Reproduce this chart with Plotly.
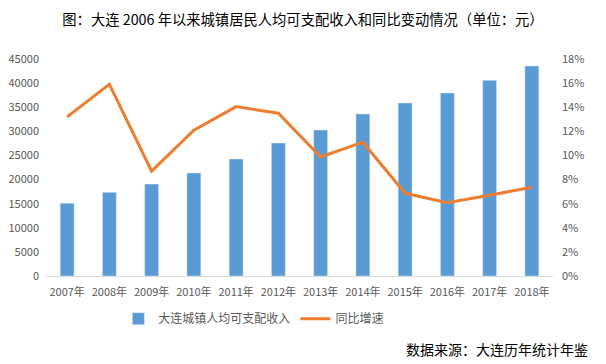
import plotly.graph_objects as go

years = ["2007年", "2008年", "2009年", "2010年", "2011年", "2012年",
         "2013年", "2014年", "2015年", "2016年", "2017年", "2018年"]
income = [15100, 17350, 19070, 21360, 24260, 27580,
          30280, 33600, 35880, 37950, 40600, 43550]
growth = [13.2, 15.9, 8.7, 12.1, 14.05, 13.5, 9.87, 11.1, 6.86, 6.08, 6.7, 7.36]

left_ticks = list(range(0, 45001, 5000))
right_ticks = list(range(0, 19, 2))

font = "Noto Sans CJK SC, sans-serif"
gray = "#595959"

fig = go.Figure()
fig.add_trace(go.Bar(x=years, y=income, name="大连城镇人均可支配收入",
                     marker_color="#5B9BD5", width=0.33))
fig.add_trace(go.Scatter(x=years, y=growth, name="同比增速", yaxis="y2",
                         mode="lines", line=dict(color="#ED7D31", width=3)))

fig.update_layout(
    width=606, height=364,
    margin=dict(l=46, r=53, t=59, b=88, autoexpand=False),
    paper_bgcolor="white", plot_bgcolor="white",
    font=dict(family=font, size=11, color=gray),
    title=dict(text="图：大连 2006 年以来城镇居民人均可支配收入和同比变动情况（单位：元）",
               x=0.5, xanchor="center", y=0.945, yanchor="middle",
               font=dict(size=14.3, color="#000000", family=font)),
    xaxis=dict(showline=True, linecolor="#D9D9D9", linewidth=1, ticks="",
               ticklabelstandoff=6,
               tickfont=dict(size=11, color=gray), showgrid=False),
    yaxis=dict(range=[0, 45000], tickvals=left_ticks,
               ticktext=[str(v) for v in left_ticks], showgrid=False,
               ticklabelstandoff=6,
               zeroline=False, tickfont=dict(size=11, color=gray)),
    yaxis2=dict(range=[0, 18], tickvals=right_ticks,
                ticktext=[f"{v}%" for v in right_ticks],
                ticklabelstandoff=8,
                overlaying="y", side="right", showgrid=False, zeroline=False,
                tickfont=dict(size=11, color=gray)),
    legend=dict(orientation="h", x=0.41, xanchor="center", y=-0.13, yanchor="top",
                font=dict(size=12, color=gray)),
)
fig.add_annotation(text="数据来源：大连历年统计年鉴", xref="paper", yref="paper",
                   x=1.073, xanchor="right", y=-0.336, yanchor="middle",
                   showarrow=False, font=dict(size=14, color="#000000", family=font))

fig.write_html("out.html", config={"displayModeBar": False},
               post_script="document.body.style.margin='0';")
